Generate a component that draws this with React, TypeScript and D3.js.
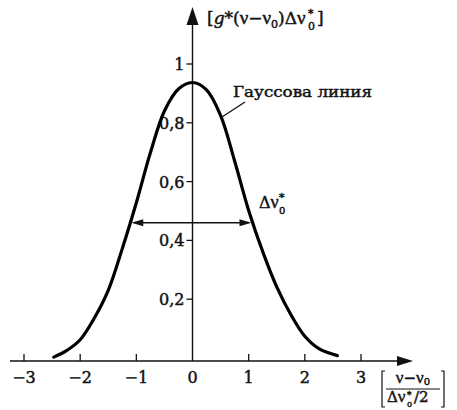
import React from "react";
import * as d3 from "d3";

// Normalised Gaussian line shape, abscissa in units of half the line width
const lineX = [-2.47, -2.25, -2.0, -1.75, -1.5, -1.25, -1.0, -0.75, -0.5, -0.25, 0, 0.25, 0.5, 0.75, 1.0, 1.25, 1.5, 1.75, 2.0, 2.25, 2.58];
const lineY = [0.003, 0.024, 0.062, 0.135, 0.23, 0.372, 0.528, 0.698, 0.84, 0.915, 0.937, 0.912, 0.825, 0.67, 0.502, 0.362, 0.242, 0.148, 0.074, 0.032, 0.008];

const xTicks = [-3, -2, -1, 0, 1, 2, 3];
const xTickLabels = ["−3", "−2", "−1", "0", "1", "2", "3"];
const yTicks = [0.2, 0.4, 0.6, 0.8, 1];
const yTickLabels = ["0,2", "0,4", "0,6", "0,8", "1"];

// Full width at half maximum marker
const halfLevel = 0.46;
const halfLeft = -1.09;
const halfRight = 1.05;

const W = 457;
const H = 410;
const FONT = "'DejaVu Serif', 'Liberation Serif', serif";
const GREEK = "'Liberation Serif', serif";
const INK = "#111";

// slight outline so the serif text reads as heavy as printed type
const textStyle = { stroke: INK, strokeWidth: 0.45, paintOrder: "stroke" as const };

export default function App() {
  const x = d3.scaleLinear().domain([-3, 3]).range([24, 361]);
  const y = d3.scaleLinear().domain([0, 1]).range([358, 64]);
  const axisY = y(0) + 3;
  const axisX = x(0);

  const pts: [number, number][] = lineX.map((v, i) => [x(v), y(lineY[i])]);
  const path = d3.line().curve(d3.curveCatmullRom.alpha(0.5))(pts) || "";

  const hy = y(halfLevel);
  const hl = x(halfLeft);
  const hr = x(halfRight);

  return (
    <svg
      width={W}
      height={H}
      style={{ position: "absolute", left: 0, top: 0, background: "#fff" }}
      fontFamily={FONT}
    >
      {/* x axis */}
      <line x1={10} x2={400} y1={axisY} y2={axisY} stroke={INK} strokeWidth={1.4} />
      <path d={`M413,${axisY} L397,${axisY - 5} L397,${axisY + 5} Z`} fill={INK} />
      {xTicks.map((t, i) => (
        <g key={"xt" + t}>
          {t !== 0 && (
            <line x1={x(t)} x2={x(t)} y1={axisY} y2={axisY - 7} stroke={INK} strokeWidth={1.3} />
          )}
          <text x={x(t)} y={383} textAnchor="middle" fontSize={16} fill={INK} style={textStyle}>
            {xTickLabels[i]}
          </text>
        </g>
      ))}

      {/* y axis */}
      <line x1={axisX} x2={axisX} y1={axisY} y2={20} stroke={INK} strokeWidth={1.4} />
      <path d={`M${axisX},7 L${axisX - 6},25 L${axisX + 6},25 Z`} fill={INK} />
      {yTicks.map((t, i) => (
        <g key={"yt" + t}>
          <line x1={axisX - 6} x2={axisX} y1={y(t)} y2={y(t)} stroke={INK} strokeWidth={1.3} />
          <text x={axisX - 8} y={y(t) + 6} textAnchor="end" fontSize={16} fill={INK} style={textStyle}>
            {yTickLabels[i]}
          </text>
        </g>
      ))}

      {/* Gaussian line */}
      <path d={path} fill="none" stroke="#000" strokeWidth={3.2} strokeLinecap="round" />

      {/* half-width double arrow */}
      <line x1={hl + 8} x2={hr - 8} y1={hy} y2={hy} stroke={INK} strokeWidth={1.3} />
      <path d={`M${hl},${hy} L${hl + 12},${hy - 3.5} L${hl + 12},${hy + 3.5} Z`} fill={INK} />
      <path d={`M${hr},${hy} L${hr - 12},${hy - 3.5} L${hr - 12},${hy + 3.5} Z`} fill={INK} />
      <text x={259} y={208} fontSize={16} fill={INK} style={textStyle}>
        Δ<tspan fontFamily={GREEK} fontSize={18}>ν</tspan>
      </text>
      <text x={279} y={201} fontSize={11} fill={INK} style={textStyle}>*</text>
      <text x={279} y={214} fontSize={10} fill={INK} style={textStyle}>0</text>

      {/* line name with leader */}
      <line x1={222} x2={245} y1={117} y2={102} stroke={INK} strokeWidth={1.3} />
      <text x={233} y={97} fontSize={15} fill={INK} textLength={139} lengthAdjust="spacingAndGlyphs" style={textStyle}>
        Гауссова линия
      </text>

      {/* y axis title */}
      <text x={207} y={24} fontSize={17} fill={INK} style={textStyle}>
        [<tspan fontStyle="italic">g</tspan>*(<tspan fontFamily={GREEK} fontSize={19}>ν</tspan>−<tspan fontFamily={GREEK} fontSize={19}>ν</tspan>
        <tspan fontSize={11} dy={4}>0</tspan>
        <tspan dy={-4}>)Δ</tspan><tspan fontFamily={GREEK} fontSize={19}>ν</tspan>
      </text>
      <text x={308} y={17} fontSize={11} fill={INK} style={textStyle}>*</text>
      <text x={308} y={30} fontSize={11} fill={INK} style={textStyle}>0</text>
      <text x={317} y={24} fontSize={17} fill={INK} style={textStyle}>]</text>

      {/* x axis title: bracketed fraction */}
      <g fill={INK} stroke={INK}>
        <path d="M385,371 L382,371 L382,407 L385,407" fill="none" strokeWidth={1.2} />
        <path d="M441,371 L444,371 L444,407 L441,407" fill="none" strokeWidth={1.2} />
        <line x1={386} x2={440} y1={389} y2={389} strokeWidth={1.2} />
      </g>
      <text x={413} y={383} textAnchor="middle" fontSize={15} fill={INK} style={textStyle}>
        <tspan fontFamily={GREEK} fontSize={17}>ν</tspan>−<tspan fontFamily={GREEK} fontSize={17}>ν</tspan>
        <tspan fontSize={10} dy={2}>0</tspan>
      </text>
      <text x={387} y={402} fontSize={15} fill={INK} style={textStyle}>
        Δ<tspan fontFamily={GREEK} fontSize={17}>ν</tspan>
      </text>
      <text x={407} y={398} fontSize={9} fill={INK} style={textStyle}>*</text>
      <text x={407} y={407} fontSize={8} fill={INK} style={textStyle}>0</text>
      <text x={414} y={402} fontSize={15} fill={INK} style={textStyle}>/2</text>
    </svg>
  );
}
